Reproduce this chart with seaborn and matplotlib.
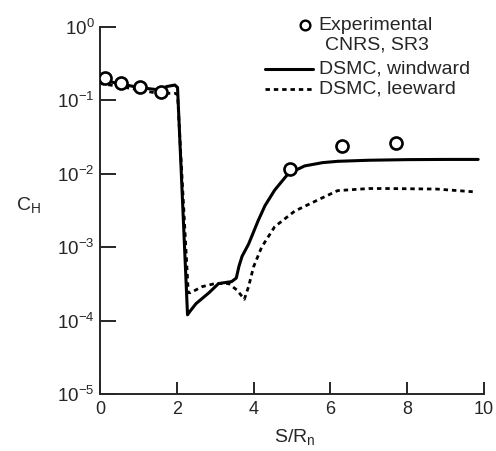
import numpy as np
import pandas as pd
import matplotlib
matplotlib.use("Agg")
import matplotlib.pyplot as plt
import seaborn as sns
from matplotlib.lines import Line2D

# ---- data ----
exp_s = [0.13, 0.56, 1.03, 1.59, 4.94, 6.31, 7.71]
exp_ch = [0.20, 0.17, 0.15, 0.13, 0.0118, 0.024, 0.026]

wind_s = [0.0, 0.5, 1.0, 1.5, 1.75, 1.95, 2.02, 2.28, 2.35, 2.5, 2.84, 3.09, 3.43, 3.55, 3.62,
          3.7, 3.87, 4.12, 4.3, 4.55, 4.9, 5.33, 5.8, 6.19, 7.0, 8.0, 9.0, 9.85]
wind_ch = [0.19, 0.17, 0.15, 0.14, 0.155, 0.162, 0.15, 1.2e-4, 1.35e-4, 1.7e-4, 2.4e-4, 3.2e-4,
           3.4e-4, 3.8e-4, 5.5e-4, 7.5e-4, 1.1e-3, 2.3e-3, 3.7e-3, 6.0e-3, 1.0e-2, 1.28e-2,
           1.42e-2, 1.48e-2, 1.53e-2, 1.56e-2, 1.57e-2, 1.57e-2]

lee_s = [0.0, 0.5, 1.0, 1.5, 1.95, 2.02, 2.3, 2.36, 2.66, 3.0, 3.35, 3.57, 3.76, 3.87, 4.0,
         4.21, 4.55, 5.07, 5.75, 6.19, 7.0, 7.47, 8.76, 9.71]
lee_ch = [0.17, 0.155, 0.14, 0.125, 0.125, 0.12, 2.4e-4, 2.4e-4, 2.9e-4, 3.2e-4, 3.2e-4, 2.6e-4,
          1.95e-4, 2.9e-4, 5.4e-4, 1.0e-3, 1.9e-3, 3.1e-3, 4.6e-3, 5.9e-3, 6.3e-3, 6.3e-3,
          6.2e-3, 5.7e-3]

x_ticks = [0, 2, 4, 6, 8, 10]
y_ticks = [1e-5, 1e-4, 1e-3, 1e-2, 1e-1, 1e0]
y_labels = [r"$\mathregular{10^{-5}}$", r"$\mathregular{10^{-4}}$", r"$\mathregular{10^{-3}}$",
            r"$\mathregular{10^{-2}}$", r"$\mathregular{10^{-1}}$", r"$\mathregular{10^{0}}$"]
legend_labels = ["Experimental", "CNRS, SR3", "DSMC, windward", "DSMC, leeward"]

# ---- style ----
sns.set_style("ticks")
plt.rcParams["font.family"] = ["Liberation Sans", "DejaVu Sans"]
plt.rcParams["mathtext.fontset"] = "custom"
plt.rcParams["mathtext.rm"] = "Liberation Sans"

fig = plt.figure(figsize=(4.96, 4.51), dpi=100)
ax = fig.add_axes([0.2016, 0.1264, 0.774, 0.8137])

wind_df = pd.DataFrame({"s": wind_s, "ch": wind_ch})
lee_df = pd.DataFrame({"s": lee_s, "ch": lee_ch})
exp_df = pd.DataFrame({"s": exp_s, "ch": exp_ch})

DASH = (0, (1.6, 1.4))
sns.lineplot(data=wind_df, x="s", y="ch", ax=ax, color="black", linewidth=2.2,
             estimator=None, sort=False)
sns.lineplot(data=lee_df, x="s", y="ch", ax=ax, color="black", linewidth=2.0,
             linestyle=DASH, estimator=None, sort=False)
sns.scatterplot(data=exp_df, x="s", y="ch", ax=ax, marker="o", s=75,
                facecolor="white", edgecolor="black", linewidth=1.9, zorder=5)

ax.set_yscale("log")
ax.set_xlim(0, 10)
ax.set_ylim(1e-5, 1e0)
ax.set_xticks(x_ticks)
ax.set_xticklabels([str(t) for t in x_ticks], fontsize=13)
ax.set_yticks(y_ticks)
ax.set_yticklabels(y_labels, fontsize=13.5)
ax.yaxis.set_minor_locator(matplotlib.ticker.NullLocator())
ax.tick_params(axis="y", direction="in", length=11.5, width=1.4, pad=4)
ax.tick_params(axis="x", direction="in", length=9, width=1.4, pad=5)
ax.set_xlabel("")
ax.set_ylabel("")
sns.despine(ax=ax)
for sp in ["left", "bottom"]:
    ax.spines[sp].set_linewidth(1.4)

fig.text(0.058, 0.545, r"$\mathregular{C_H}$", fontsize=14, ha="center", va="center")
fig.text(0.595, 0.03, r"$\mathregular{S/R_n}$", fontsize=14, ha="center", va="center")

# ---- legend drawn by hand (axes-fraction coordinates) ----
tr = ax.transAxes
leg_fs = 14
ax.add_line(Line2D([0.535], [1.005], transform=tr, marker="o", linestyle="none",
                   markerfacecolor="white", markeredgecolor="black",
                   markeredgewidth=1.7, markersize=7, clip_on=False))
ax.text(0.57, 1.005, legend_labels[0], transform=tr, fontsize=leg_fs, ha="left", va="center")
ax.text(0.585, 0.951, legend_labels[1], transform=tr, fontsize=leg_fs, ha="left", va="center")
ax.add_line(Line2D([0.43, 0.555], [0.886, 0.886], transform=tr, color="black",
                   linewidth=2.2, clip_on=False))
ax.text(0.57, 0.886, legend_labels[2], transform=tr, fontsize=leg_fs, ha="left", va="center")
ax.add_line(Line2D([0.43, 0.555], [0.83, 0.83], transform=tr, color="black",
                   linewidth=2.0, linestyle=DASH, clip_on=False))
ax.text(0.57, 0.83, legend_labels[3], transform=tr, fontsize=leg_fs, ha="left", va="center")

fig.savefig("out.png", dpi=100)
